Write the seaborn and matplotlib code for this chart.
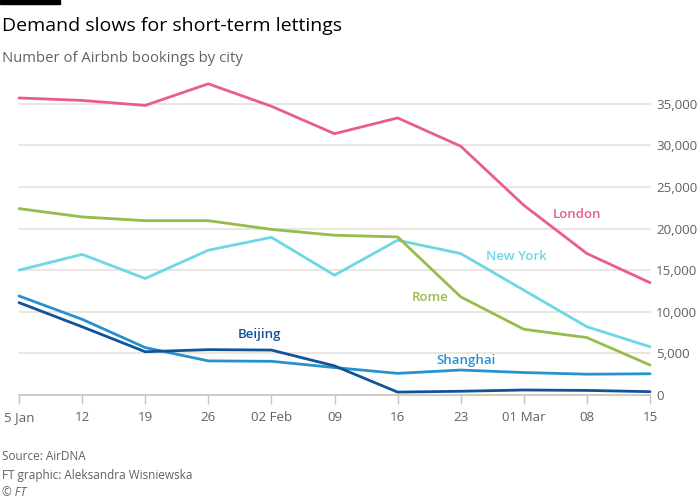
import matplotlib
matplotlib.use("Agg")
import matplotlib.pyplot as plt
import seaborn as sns
import pandas as pd
import numpy as np

weeks = ["5 Jan", "12", "19", "26", "02 Feb", "09", "16", "23", "01 Mar", "08", "15"]
london = [35700, 35400, 34800, 37400, 34700, 31400, 33300, 29900, 22800, 17000, 13500]
new_york = [15000, 16900, 14000, 17400, 18950, 14400, 18600, 17000, 12600, 8200, 5800]
rome = [22400, 21400, 20950, 20950, 19900, 19200, 19000, 11800, 7900, 6900, 3600]
shanghai = [11900, 9100, 5700, 4100, 4050, 3300, 2600, 3000, 2700, 2500, 2550]
beijing = [11100, 8200, 5200, 5450, 5400, 3500, 350, 450, 600, 550, 400]
cities = ["London", "New York", "Rome", "Shanghai", "Beijing"]
y_ticks = [0, 5000, 10000, 15000, 20000, 25000, 30000, 35000]

colors = {"London": "#e95d8c", "New York": "#6bd8e3", "Rome": "#96bc4b",
          "Shanghai": "#2791d0", "Beijing": "#0f5499"}
label_pos = {"London": (8.46, 21750), "New York": (7.4, 16600), "Rome": (6.22, 11700),
             "Shanghai": (6.61, 4200), "Beijing": (3.47, 7300)}

series = {"London": london, "New York": new_york, "Rome": rome,
          "Shanghai": shanghai, "Beijing": beijing}
df = pd.concat([pd.DataFrame({"x": np.arange(len(weeks)), "value": v, "city": c})
                for c, v in series.items()], ignore_index=True)

sns.set_theme(style="white")
plt.rcParams["font.family"] = ["Open Sans", "DejaVu Sans"]

fig = plt.figure(figsize=(7, 5), dpi=100)
fig.patch.set_facecolor("white")
ax = fig.add_axes([19 / 700, 0.21, 631 / 700, 0.6324])
ax.set_facecolor("white")

grid_c = "#e9e2da"
for t in y_ticks[1:]:
    ax.axhline(t, color=grid_c, lw=1.2, zorder=0)

sns.lineplot(data=df, x="x", y="value", hue="city", hue_order=cities,
             palette=colors, linewidth=2.0, legend=False, ax=ax, zorder=3)
for ln in ax.lines:
    ln.set_clip_on(False)
    ln.set_solid_joinstyle("round")

for c, (x, y) in label_pos.items():
    ax.text(x, y, c, color=colors[c], fontsize=9.5, fontweight="semibold",
            ha="left", va="center")

ax.set_xlim(0, 10)
ax.set_ylim(0, 38000)
ax.set_xticks(range(len(weeks)))
ax.set_xticklabels(weeks)
ax.set_yticks(y_ticks)
ax.set_yticklabels([f"{t:,}" for t in y_ticks])
ax.yaxis.tick_right()
ax.tick_params(axis="y", length=0, pad=4.5, labelsize=9.6, labelcolor="#66605c")
ax.tick_params(axis="x", length=6.5, width=1, color="#ccc1b7", pad=5,
               labelsize=9.6, labelcolor="#66605c", bottom=True)
for s in ["top", "left", "right"]:
    ax.spines[s].set_visible(False)
ax.spines["bottom"].set_color("#ccc1b7")
ax.spines["bottom"].set_linewidth(1.2)
ax.set_xlabel("")
ax.set_ylabel("")

fig.add_artist(plt.Rectangle((0, 1 - 3.5 / 500), 60 / 700, 3.5 / 500,
                             transform=fig.transFigure, color="black"))
fig.text(2 / 700, 1 - 26 / 500, "Demand slows for short-term lettings",
         fontsize=14.0, color="#000000", va="center", ha="left")
fig.text(2 / 700, 1 - 59 / 500, "Number of Airbnb bookings by city",
         fontsize=10.7, color="#66605c", va="center", ha="left")
fig.text(2 / 700, 1 - 457 / 500, "Source: AirDNA", fontsize=8.5,
         color="#66605c", va="center", ha="left")
fig.text(2 / 700, 1 - 475 / 500, "FT graphic: Aleksandra Wisniewska", fontsize=8.5,
         color="#66605c", va="center", ha="left")
fig.text(2 / 700, 1 - 492 / 500, "© FT", fontsize=8.5, style="italic",
         color="#66605c", va="center", ha="left")

fig.savefig("out.png", dpi=100, facecolor="white")
